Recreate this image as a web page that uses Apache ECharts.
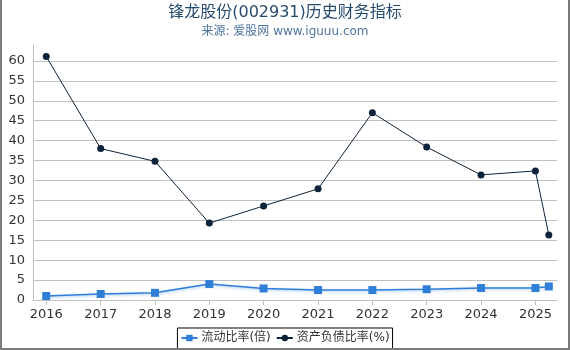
<!DOCTYPE html>
<html>
<head>
<meta charset="utf-8">
<script src="https://cdn.jsdelivr.net/npm/echarts@6/dist/echarts.min.js"></script>
<style>
    html, body { margin: 0; padding: 0; background: #fff; }
    #wrap { position: relative; width: 570px; height: 350px; }
    #chart { width: 570px; height: 350px; }
    #frame {
        position: absolute; left: 0; top: 0; width: 570px; height: 350px;
        box-sizing: border-box; pointer-events: none;
        border-left: 2px solid #7a7a7a; border-right: 2px solid #7a7a7a; border-bottom: 2px solid #7a7a7a;
    }
</style>
</head>
<body>
<div id="wrap">
    <div id="chart"></div>
    <div id="frame"></div>
</div>
<script>
// 报告期
var dates = [
    "2016-01-01", "2017-01-01", "2018-01-01", "2019-01-01", "2020-01-01",
    "2021-01-01", "2022-01-01", "2023-01-01", "2024-01-01", "2025-01-01", "2025-04-01"
];
// 流动比率(倍)
var liudong = [1.0, 1.5, 1.8, 4.0, 2.9, 2.5, 2.5, 2.7, 3.0, 3.0, 3.4];
// 资产负债比率(%)
var fuzhai = [61.1, 38.0, 34.8, 19.3, 23.6, 27.9, 47.0, 38.4, 31.4, 32.4, 16.3];

var fontFamily = "'DejaVu Sans', 'Noto Sans CJK SC', sans-serif";
var YEAR = 365.25 * 24 * 3600 * 1000;

function pairs(vals) {
    return dates.map(function(d, i) { return [d, vals[i]]; });
}

// 0..60 每5一条网格线, 顶部(64)不画
var gridColors = [];
for (var i = 0; i <= 12; i++) gridColors.push("#c0c0c0");
gridColors.push("rgba(0,0,0,0)");

var myChart = echarts.init(document.getElementById("chart"));
var option = {
    animation: false,
    title: {
        text: "锋龙股份(002931)历史财务指标",
        subtext: "来源: 爱股网 www.iguuu.com",
        left: "center",
        top: 0,
        itemGap: 5,
        textStyle: { fontSize: 16, fontWeight: "normal", color: "#274b6d", fontFamily: fontFamily },
        subtextStyle: { fontSize: 12, color: "#4d759e", fontFamily: fontFamily }
    },
    legend: {
        bottom: 0,
        left: "center",
        borderColor: "#000",
        borderWidth: 1,
        padding: [4, 3, 6, 3],
        itemGap: 5,
        itemWidth: 16,
        itemHeight: 8,
        textStyle: { fontSize: 12, color: "#333", fontFamily: fontFamily, padding: [0, 0, 0, -1] },
        data: ["流动比率(倍)", "资产负债比率(%)"]
    },
    grid: { left: 33, right: 13, top: 45, bottom: 50 },
    xAxis: {
        type: "time",
        min: "2015-10-04",
        max: "2025-05-26",
        offset: 4,
        minInterval: YEAR * 0.9,
        maxInterval: YEAR * 1.1,
        splitLine: { show: false },
        axisLine: { lineStyle: { color: "#c0c0c0" } },
        axisTick: { show: true, lineStyle: { color: "#c0c0c0" }, length: 5 },
        axisLabel: {
            formatter: "{yyyy}",
            color: "#333",
            fontSize: 13,
            fontFamily: fontFamily,
            margin: 4
        }
    },
    yAxis: {
        type: "value",
        min: 0,
        max: 64,
        interval: 5,
        axisLine: { show: true, lineStyle: { color: "#c0c0c0" } },
        axisTick: { show: false },
        splitLine: { lineStyle: { color: gridColors } },
        axisLabel: {
            color: "#333",
            fontSize: 13,
            fontFamily: fontFamily,
            margin: 8,
            showMaxLabel: false
        }
    },
    series: [{
        name: "流动比率(倍)",
        type: "line",
        data: pairs(liudong),
        symbol: "rect",
        symbolSize: 8,
        color: "#2f7ed8",
        lineStyle: { width: 1.5, shadowColor: "rgba(47,126,216,0.45)", shadowBlur: 3, shadowOffsetY: 1 }
    }, {
        name: "资产负债比率(%)",
        type: "line",
        data: pairs(fuzhai),
        symbol: "circle",
        symbolSize: 7,
        color: "#0d233a",
        lineStyle: { width: 1 }
    }]
};
myChart.setOption(option);
</script>
</body>
</html>
